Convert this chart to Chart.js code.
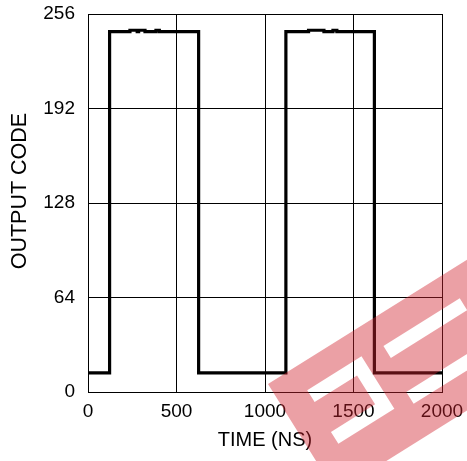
<!DOCTYPE html>
<html>
<head>
<meta charset="utf-8">
<script src="https://cdn.jsdelivr.net/npm/chart.js@4"></script>
<style>
  html, body { margin: 0; padding: 0; background: #fff; }
  #wrap { width: 467px; height: 461px; }
</style>
</head>
<body>
<div id="wrap"><canvas id="codeChart"></canvas></div>
<script>
// Waveform (time in ns, output code)
const timeNs = [0, 122, 122, 237, 237, 278, 278, 286, 286, 322, 322, 384, 384, 403, 403, 625, 625,
                1118, 1118, 1246, 1246, 1333, 1333, 1384, 1384, 1406, 1406, 1618, 1618, 2000];
const outputCode = [13, 13, 244, 244, 245, 245, 244, 244, 245, 245, 244, 244, 245, 245, 244, 244, 13,
                    13, 244, 244, 245, 245, 244, 244, 245, 245, 244, 244, 13, 13];

const xTicks = [0, 500, 1000, 1500, 2000];
const yTicks = [0, 64, 128, 192, 256];

const points = timeNs.map((t, i) => ({ x: t, y: outputCode[i] }));

// Red "EE" watermark drawn over the chart
const watermark = {
    id: 'watermark',
    afterDraw(chart) {
        const ctx = chart.ctx;
        ctx.save();
        ctx.translate(268, 384);
        ctx.rotate(-32 * Math.PI / 180);
        ctx.beginPath();
        ctx.rect(0, 0, 420, 128);
        // left letter cut-out
        ctx.moveTo(30, 26);
        ctx.lineTo(94, 26);
        ctx.lineTo(94, 88);
        ctx.lineTo(28, 88);
        ctx.lineTo(28, 74);
        ctx.lineTo(80, 74);
        ctx.lineTo(80, 40);
        ctx.lineTo(30, 40);
        ctx.closePath();
        // right letter cut-outs
        ctx.rect(118, 29, 90, 14);
        ctx.rect(113, 80, 95, 14);
        ctx.fillStyle = 'rgba(209, 35, 47, 0.43)';
        ctx.fill('evenodd');
        ctx.restore();
    }
};

const font = { family: "'Liberation Sans', Arial, sans-serif" };
const plain = (v) => String(v);

new Chart(document.getElementById('codeChart'), {
    type: 'line',
    data: {
        datasets: [{
            data: points,
            borderColor: '#000',
            borderWidth: 3.2,
            pointRadius: 0,
            fill: false,
            tension: 0
        }]
    },
    options: {
        responsive: true,
        maintainAspectRatio: false,
        animation: false,
        layout: { padding: { left: 0, top: 14, right: 25, bottom: 0 } },
        plugins: {
            legend: { display: false },
            tooltip: { enabled: false }
        },
        scales: {
            x: {
                type: 'linear',
                min: 0,
                max: 2000,
                afterBuildTicks: (scale) => { scale.ticks = xTicks.map(v => ({ value: v })); },
                afterFit: (scale) => {
                    scale.height = 69;
                    scale.paddingLeft = 0;
                    scale.paddingRight = 0;
                },
                ticks: { color: '#000', padding: 8, font: { ...font, size: 19 }, callback: plain },
                grid: { color: '#000', lineWidth: 1, drawTicks: false },
                border: { color: '#000', width: 1 },
                title: {
                    display: true,
                    text: 'TIME (NS)',
                    color: '#000',
                    font: { ...font, size: 20 },
                    padding: { top: 0, bottom: 9 }
                }
            },
            y: {
                min: 0,
                max: 256,
                afterBuildTicks: (scale) => { scale.ticks = yTicks.map(v => ({ value: v })); },
                afterFit: (scale) => {
                    scale.width = 88;
                    scale.paddingTop = 0;
                    scale.paddingBottom = 0;
                },
                ticks: { color: '#000', padding: 13, font: { ...font, size: 19 }, callback: plain },
                grid: { color: '#000', lineWidth: 1, drawTicks: false },
                border: { color: '#000', width: 1 },
                title: {
                    display: true,
                    text: '    OUTPUT CODE',
                    color: '#000',
                    font: { ...font, size: 21.5 },
                    padding: { top: 7, bottom: 0 }
                }
            }
        }
    },
    plugins: [watermark]
});
</script>
</body>
</html>
